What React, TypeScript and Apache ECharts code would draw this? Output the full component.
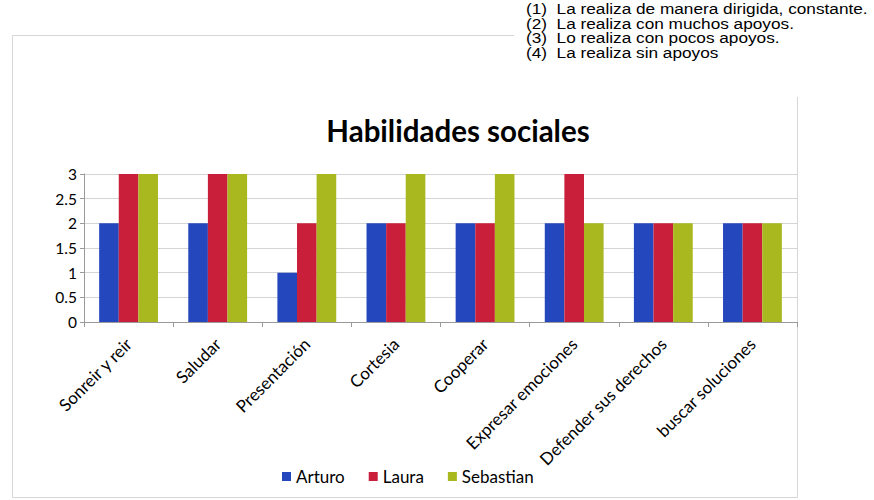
import React, { useEffect, useRef } from "react";
import * as echarts from "echarts";

const categories = [
  "Sonreir y reir",
  "Saludar",
  "Presentación",
  "Cortesia",
  "Cooperar",
  "Expresar emociones",
  "Defender sus derechos",
  "buscar soluciones",
];
const arturo = [2, 2, 1, 2, 2, 2, 2, 2];
const laura = [3, 3, 2, 2, 2, 3, 2, 2];
const sebastian = [3, 3, 3, 3, 3, 2, 2, 2];
const seriesNames = ["Arturo", "Laura", "Sebastian"];
const noteLines = [
  "(1)  La realiza de manera dirigida, constante.",
  "(2)  La realiza con muchos apoyos.",
  "(3)  Lo realiza con pocos apoyos.",
  "(4)  La realiza sin apoyos",
];
const title = "Habilidades sociales";

const FONT = "Lato, 'Open Sans', sans-serif";

export default function App() {
  const ref = useRef<HTMLDivElement>(null);
  useEffect(() => {
    document.body.style.margin = "0";
    if (!ref.current) return;
    const chart = echarts.init(ref.current, null, { renderer: "svg" });
    const colors = ["#2547bd", "#c91f3a", "#a8b81e"];
    const data = [arturo, laura, sebastian];
    chart.setOption({
      animation: false,
      backgroundColor: "#ffffff",
      title: {
        text: title,
        left: 453,
        textAlign: "center",
        top: 110,
        textStyle: { fontFamily: FONT, fontSize: 29.5, fontWeight: "bold", color: "#000" },
      },
      legend: {
        data: seriesNames,
        left: 277,
        top: 463,
        icon: "rect",
        itemWidth: 9,
        itemHeight: 9,
        itemGap: 24,
        textStyle: { fontFamily: FONT, fontSize: 17, color: "#000" },
      },
      grid: { left: 84, right: 77, top: 174, bottom: 178, containLabel: false },
      xAxis: {
        type: "category",
        data: categories,
        axisLine: { lineStyle: { color: "#9a9a9a" } },
        axisTick: { show: true, length: 5, lineStyle: { color: "#9a9a9a" } },
        axisLabel: {
          rotate: 45,
          interval: 0,
          margin: 19,
          fontFamily: FONT,
          fontSize: 17,
          color: "#000",
        },
      },
      yAxis: {
        type: "value",
        min: 0,
        max: 3,
        interval: 0.5,
        axisLine: { show: true, lineStyle: { color: "#9a9a9a" } },
        axisTick: { show: true, length: 4, lineStyle: { color: "#9a9a9a" } },
        splitLine: { lineStyle: { color: "#d4d4d4" } },
        axisLabel: { fontFamily: FONT, fontSize: 15.5, color: "#000", margin: 7 },
      },
      series: seriesNames.map((name, i) => ({
        name,
        type: "bar",
        data: data[i],
        barGap: "0%",
        barCategoryGap: "34%",
        itemStyle: { color: colors[i] },
      })),
      graphic: [
        {
          type: "rect",
          shape: { x: 12.5, y: 35.5, width: 785, height: 462 },
          style: { fill: "none", stroke: "#d6d6d6", lineWidth: 1 },
          z: -10,
        },
        {
          type: "rect",
          shape: { x: 514, y: 0, width: 360, height: 97 },
          style: { fill: "#ffffff" },
          z: -5,
        },
        ...noteLines.map((t, i) => ({
          type: "text",
          x: 526,
          y: 2 + i * 14.6,
          scaleX: 1.23,
          style: {
            text: t,
            fontFamily: "'Liberation Sans', Arial, sans-serif",
            fontSize: 14,
            fill: "#000",
          },
          z: 10,
        })),
      ],
    });
    return () => chart.dispose();
  }, []);
  return <div ref={ref} style={{ width: 874, height: 500 }} />;
}
